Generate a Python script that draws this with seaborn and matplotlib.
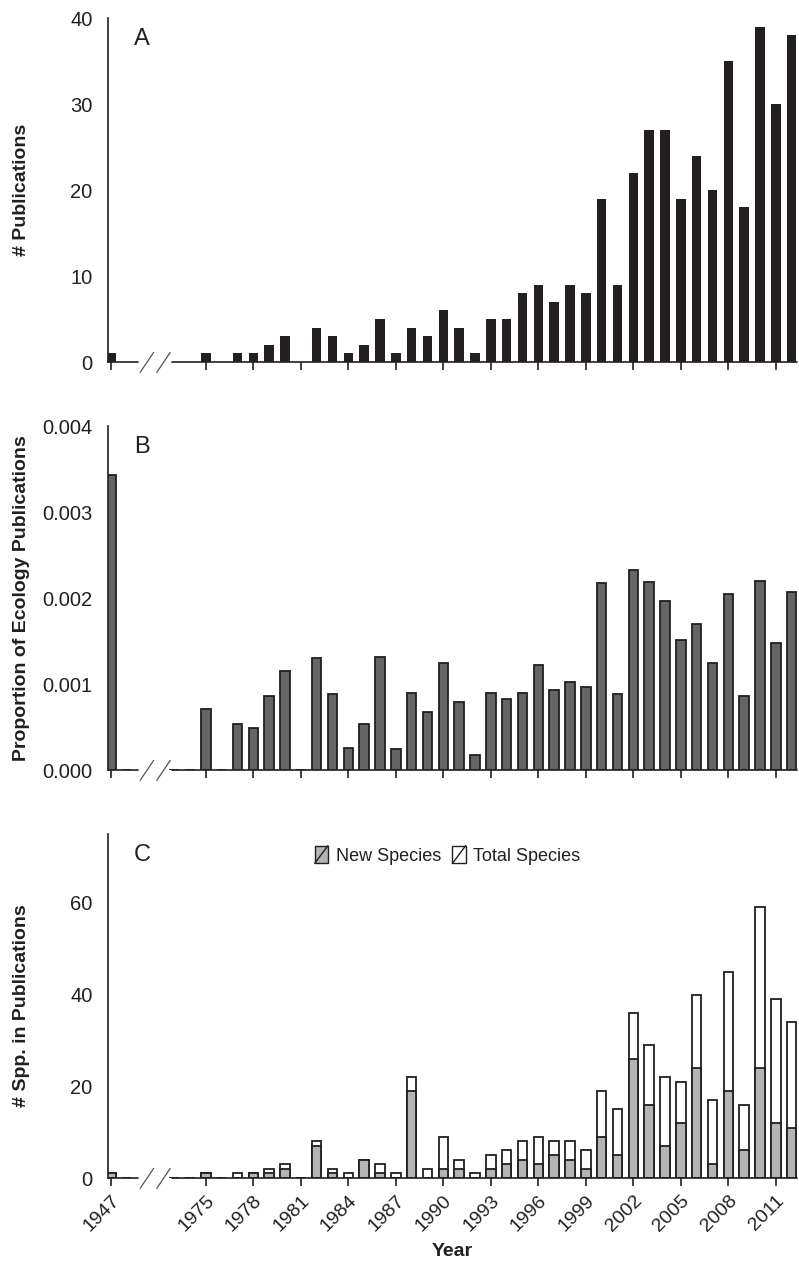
import matplotlib
matplotlib.use('Agg')
import matplotlib.pyplot as plt
import seaborn as sns
import pandas as pd
from matplotlib.legend_handler import HandlerBase
from matplotlib.patches import Rectangle, Patch
from matplotlib.lines import Line2D

# data
years = [1947, 1948] + list(range(1973, 2013))
pubs = [1, 0, 0, 0, 1, 0, 1, 1, 2, 3, 0, 4, 3, 1, 2, 5, 1, 4, 3, 6, 4, 1,
        5, 5, 8, 9, 7, 9, 8, 19, 9, 22, 27, 27, 19, 24, 20, 35, 18, 39, 30, 38]
prop_ecology = [0.00343, 0, 0, 0, 0.00071, 0, 0.00054, 0.00049, 0.00086, 0.00115,
                0, 0.00130, 0.00088, 0.00026, 0.00054, 0.00131, 0.00024, 0.00090,
                0.00067, 0.00124, 0.00079, 0.00018, 0.00089, 0.00082, 0.00090,
                0.00122, 0.00093, 0.00102, 0.00097, 0.00218, 0.00088, 0.00233,
                0.00219, 0.00196, 0.00151, 0.00170, 0.00124, 0.00205, 0.00086,
                0.00220, 0.00148, 0.00207]
new_spp = [1, 0, 0, 0, 1, 0, 0, 1, 1, 2, 0, 7, 1, 0, 4, 1, 0, 19, 0, 2, 2, 0,
           2, 3, 4, 3, 5, 4, 2, 9, 5, 26, 16, 7, 12, 24, 3, 19, 6, 24, 12, 11]
total_spp = [1, 0, 0, 0, 1, 0, 1, 1, 2, 3, 0, 8, 2, 1, 4, 3, 1, 22, 2, 9, 4, 1,
             5, 6, 8, 9, 8, 8, 6, 19, 15, 36, 29, 22, 21, 40, 17, 45, 16, 59, 39, 34]
tick_years = [1947] + list(range(1975, 2012, 3))

DARK = '#231f20'
GAP = 2  # empty slots for the axis break between 1948 and 1973

# x position of each year: consecutive slots, with a gap after the old records
pos = []
for i, y in enumerate(years):
    pos.append(i if y < 1960 else i + GAP)
year_pos = dict(zip(years, pos))

df = pd.DataFrame({'year': years, 'pos': pos, 'pubs': pubs, 'prop': prop_ecology,
                   'new': new_spp, 'total': total_spp})

sns.set_style('ticks')
plt.rcParams['font.family'] = ['Liberation Sans', 'DejaVu Sans']
plt.rcParams['text.color'] = DARK
plt.rcParams['axes.labelcolor'] = DARK
plt.rcParams['xtick.color'] = DARK
plt.rcParams['ytick.color'] = DARK


class SlashBox(HandlerBase):
    def create_artists(self, legend, orig_handle, xdescent, ydescent,
                       width, height, fontsize, trans):
        w = height * 1.05
        x0 = -xdescent + (width - w) / 2
        y0 = -ydescent - height * 0.2
        h = height * 1.4
        rect = Rectangle((x0, y0), w, h, facecolor=orig_handle.get_facecolor(),
                         edgecolor=DARK, lw=1.0, transform=trans)
        line = Line2D([x0, x0 + w], [y0, y0 + h], color=DARK, lw=1.0, transform=trans)
        return [rect, line]


fig, axes = plt.subplots(3, 1, figsize=(7.99, 12.69), dpi=100)
fig.subplots_adjust(left=0.135, right=0.9975, top=0.9858, bottom=0.0717, hspace=0.186)

axA, axB, axC = axes
sns.barplot(data=df, x='pos', y='pubs', native_scale=True, color=DARK, saturation=1,
            width=0.6, errorbar=None, linewidth=0, ax=axA)
sns.barplot(data=df, x='pos', y='prop', native_scale=True, color='#646567', saturation=1,
            width=0.6, errorbar=None, edgecolor=DARK, linewidth=1.3, ax=axB)
sns.barplot(data=df, x='pos', y='total', native_scale=True, color='white', saturation=1,
            width=0.6, errorbar=None, edgecolor=DARK, linewidth=1.3, ax=axC)
sns.barplot(data=df, x='pos', y='new', native_scale=True, color='#b2b4b6', saturation=1,
            width=0.6, errorbar=None, edgecolor=DARK, linewidth=1.3, ax=axC)

axA.set_ylim(0, 40)
axA.set_yticks([0, 10, 20, 30, 40])
axB.set_ylim(0, 0.004)
axB.set_yticks([0, 0.001, 0.002, 0.003, 0.004])
axB.set_yticklabels([f'{v:.3f}' for v in [0, 0.001, 0.002, 0.003, 0.004]])
axC.set_ylim(0, 75)
axC.set_yticks([0, 20, 40, 60])

xlo, xhi = -0.19, pos[-1] + 0.34
tpos = [year_pos[y] for y in tick_years]
ylabels = ['# Publications', 'Proportion of Ecology Publications', '# Spp. in Publications']
for ax, letter, lab in zip(axes, 'ABC', ylabels):
    ax.set_xlim(xlo, xhi)
    ax.set_xticks(tpos)
    ax.set_xticklabels([])
    ax.set_xlabel('')
    ax.set_ylabel(lab, fontsize=14, fontweight='bold')
    ax.yaxis.set_label_coords(-0.113, 0.5)
    sns.despine(ax=ax, bottom=True)
    ax.spines['left'].set_color(DARK)
    ax.spines['left'].set_linewidth(1.2)
    ax.tick_params(axis='x', direction='out', length=6, width=1.2, pad=4)
    ax.tick_params(axis='y', length=0, pad=11, labelsize=14.5)
    ax.text(0.05, 0.94, letter, transform=ax.transAxes, fontsize=17, va='center', ha='center')
    # broken baseline with the // marks
    tr = ax.get_xaxis_transform()
    ax.plot([xlo, 1.72], [0, 0], color=DARK, lw=1.2, transform=tr, clip_on=False)
    ax.plot([3.88, xhi], [0, 0], color=DARK, lw=1.2, transform=tr, clip_on=False)
    for s in (1.85, 2.9):
        ax.plot([s, s + 0.85], [-0.03, 0.028], color='#555555', lw=0.9,
                transform=tr, clip_on=False)

axC.set_xticklabels([str(y) for y in tick_years], rotation=45, ha='right',
                    rotation_mode='anchor', fontsize=14)
axC.set_xlabel('Year', fontsize=14, fontweight='bold', labelpad=6)

handles = [Patch(facecolor='#b2b4b6'), Patch(facecolor='white')]
axC.legend(handles, ['New Species', 'Total Species'], handler_map={Patch: SlashBox()},
           loc='center', bbox_to_anchor=(0.49, 0.935), ncol=2, frameon=False,
           fontsize=13, handlelength=1.2, handletextpad=0.2, columnspacing=0.4)

fig.savefig('out.png', dpi=100)
